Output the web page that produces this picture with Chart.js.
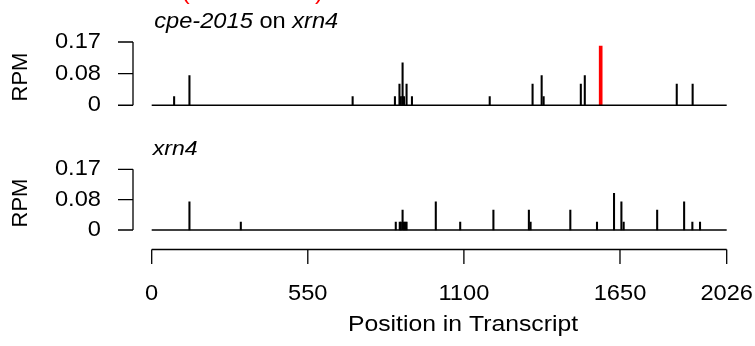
<!DOCTYPE html>
<html>
<head>
<meta charset="utf-8">
<script src="https://cdn.jsdelivr.net/npm/chart.js@4.4.0/dist/chart.umd.min.js"></script>
<style>
  body { margin: 0; background: #fff; }
  canvas { display: block; }
</style>
</head>
<body>
<canvas id="plot" width="755" height="346"></canvas>
<script>
// top panel: cpe-2015 on xrn4
const topPositions = [79, 133, 708, 857, 873, 877, 883, 884, 889, 898, 917, 1191, 1342, 1374, 1381, 1512, 1526, 1850, 1906];
const topRpm = [0.023, 0.08, 0.023, 0.023, 0.057, 0.023, 0.023, 0.114, 0.023, 0.057, 0.023, 0.023, 0.057, 0.08, 0.023, 0.057, 0.08, 0.057, 0.057];
// highlighted (red) site
const sitePositions = [1582];
const siteRpm = [0.159];
// bottom panel: xrn4
const bottomPositions = [133, 314, 860, 874, 878, 884, 889, 894, 898, 1001, 1087, 1204, 1329, 1335, 1475, 1569, 1629, 1655, 1663, 1781, 1876, 1905, 1932];
const bottomRpm = [0.079, 0.022, 0.022, 0.022, 0.022, 0.056, 0.022, 0.022, 0.022, 0.079, 0.022, 0.056, 0.056, 0.022, 0.056, 0.022, 0.103, 0.079, 0.022, 0.056, 0.079, 0.022, 0.022];

const transcriptLength = 2026;
const xTicks = [0, 550, 1100, 1650, 2026];
const yTicks = [0, 0.085, 0.17];
const yTickLabels = ['0', '0.08', '0.17'];

const FONT = '"Liberation Sans", Arial, sans-serif';
const SX = 1.1; // text in the picture is a little wide

function toPoints(xs, ys) {
    return xs.map((x, i) => ({ x: x, y: ys[i] }));
}

function drawText(ctx, str, x, y, align, size, style) {
    ctx.save();
    ctx.font = (style || '') + ' ' + size + 'px ' + FONT;
    ctx.textBaseline = 'middle';
    ctx.textAlign = 'left';
    const w = ctx.measureText(str).width * SX;
    let left = x;
    if (align === 'right') left = x - w;
    else if (align === 'center') left = x - w / 2;
    ctx.translate(left, y);
    ctx.scale(SX, 1);
    ctx.fillText(str, 0, 0);
    ctx.restore();
    return w;
}

function rAxisY(ctx, chart, scaleId, labelY) {
    const s = chart.scales[scaleId];
    const axisX = 133;
    ctx.strokeStyle = '#000';
    ctx.lineWidth = 1.3;
    ctx.beginPath();
    ctx.moveTo(axisX, s.getPixelForValue(yTicks[0]));
    ctx.lineTo(axisX, s.getPixelForValue(yTicks[yTicks.length - 1]));
    yTicks.forEach(t => {
        const py = s.getPixelForValue(t);
        ctx.moveTo(axisX, py);
        ctx.lineTo(118, py);
    });
    ctx.stroke();
    ctx.fillStyle = '#000';
    yTicks.forEach((t, i) => {
        drawText(ctx, yTickLabels[i], 101, s.getPixelForValue(t), 'right', 21.5);
    });
    ctx.save();
    ctx.translate(21, labelY);
    ctx.rotate(-Math.PI / 2);
    ctx.font = '22px ' + FONT;
    ctx.textAlign = 'center';
    ctx.textBaseline = 'middle';
    ctx.fillText('RPM', 0, 0);
    ctx.restore();
}

const rStyle = {
    id: 'rStyle',
    afterDraw(chart) {
        const ctx = chart.ctx;
        const x = chart.scales.x;
        ctx.save();
        // baselines of both tracks
        ctx.strokeStyle = '#000';
        ctx.lineWidth = 1.3;
        ['yTop', 'yBottom'].forEach(id => {
            const py = chart.scales[id].getPixelForValue(0);
            ctx.beginPath();
            ctx.moveTo(x.getPixelForValue(0), py);
            ctx.lineTo(x.getPixelForValue(transcriptLength), py);
            ctx.stroke();
        });

        rAxisY(ctx, chart, 'yTop', 77);
        rAxisY(ctx, chart, 'yBottom', 203);

        // x axis
        const axisY = 249.5;
        ctx.beginPath();
        ctx.moveTo(x.getPixelForValue(xTicks[0]), axisY);
        ctx.lineTo(x.getPixelForValue(xTicks[xTicks.length - 1]), axisY);
        xTicks.forEach(t => {
            const px = x.getPixelForValue(t);
            ctx.moveTo(px, axisY);
            ctx.lineTo(px, 264);
        });
        ctx.stroke();
        ctx.fillStyle = '#000';
        xTicks.forEach(t => drawText(ctx, String(t), x.getPixelForValue(t), 294, 'center', 21.5));
        drawText(ctx, 'Position in Transcript', 463, 325, 'center', 22.5);

        // titles
        let tx = x.left + 2.5;
        tx += drawText(ctx, 'cpe-2015', tx, 22, 'left', 21.5, 'italic');
        tx += drawText(ctx, ' on ', tx, 22, 'left', 21.5);
        drawText(ctx, 'xrn4', tx, 22, 'left', 21.5, 'italic');
        drawText(ctx, 'xrn4', x.left + 1, 149, 'left', 21, 'italic');

        // red heading cut by the top edge
        ctx.fillStyle = '#ff0000';
        drawText(ctx, '(', 182, -6, 'left', 21);
        drawText(ctx, ')', 315, -6, 'left', 21);
        ctx.restore();
    }
};

new Chart(document.getElementById('plot'), {
    type: 'bar',
    data: {
        datasets: [
            { data: toPoints(topPositions, topRpm), yAxisID: 'yTop', backgroundColor: '#000', barThickness: 1.4 },
            { data: toPoints(sitePositions, siteRpm), yAxisID: 'yTop', backgroundColor: '#ff0000', barThickness: 3 },
            { data: toPoints(bottomPositions, bottomRpm), yAxisID: 'yBottom', backgroundColor: '#000', barThickness: 1.4 }
        ]
    },
    options: {
        responsive: false,
        animation: false,
        events: [],
        grouped: false,
        layout: { padding: { left: 151.7, right: 28.3, top: 42, bottom: 98 } },
        plugins: { legend: { display: false }, tooltip: { enabled: false } },
        scales: {
            x: { type: 'linear', min: 0, max: transcriptLength, offset: false, display: false },
            yTop: { type: 'linear', min: -0.3836, max: 0.17, display: false },
            yBottom: { type: 'linear', min: -0.0504, max: 0.5266, display: false }
        }
    },
    plugins: [rStyle]
});
</script>
</body>
</html>
